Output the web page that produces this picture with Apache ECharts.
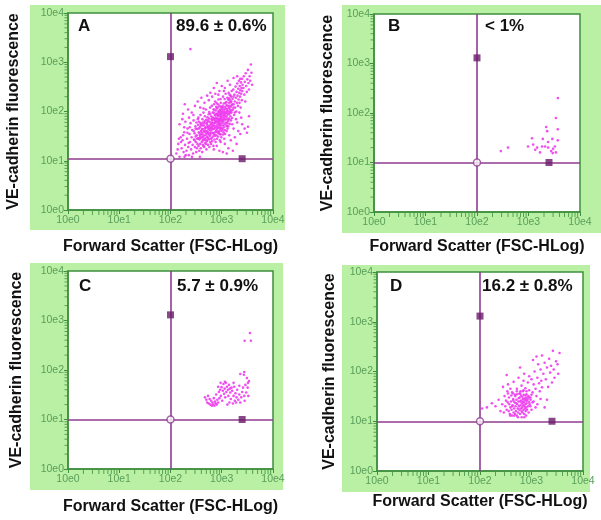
<!DOCTYPE html>
<html><head><meta charset="utf-8">
<script src="https://cdn.jsdelivr.net/npm/echarts@6/dist/echarts.min.js"></script>
<style>html,body{margin:0;padding:0;background:#fff}#c{width:601px;height:520px}</style>
</head><body><div id="c"></div>
<script>
// ---------- data ----------
const tickLabels = ['10e0','10e1','10e2','10e3','10e4'];
const xTitle = 'Forward Scatter (FSC-HLog)';
const yTitle = 'VE-cadherin fluorescence';
const panelLetters = ['A','B','C','D'];
const panelPercents = ['89.6 \u00b1 0.6%','< 1%','5.7 \u00b1 0.9%','16.2 \u00b1 0.8%'];
const gateX = [100,100,100,100];
const gateY = [11,10,10,10];
const gateHandleY = 1300;   // square on vertical gate line
const gateHandleX = 2500;   // square on horizontal gate line
const minorTickVals = [2,3,4,5,6,7,8,9,20,30,40,50,60,70,80,90,200,300,400,500,600,700,800,900,2000,3000,4000,5000,6000,7000,8000,9000];

const dataA = [
[130,14],[142,22],[150,12],[158,30],[165,18],[172,26],[180,15],[185,38],[192,21],[198,13],[138,17],[176,33],[160,24],[188,12],[146,28],[150,55],[170,70],[185,48],[195,62],
[205,16],[210,28],[215,45],[222,19],[228,13],[235,35],[240,24],[246,58],[252,17],[258,30],[265,42],[270,21],[276,14],[282,66],[288,27],[295,36],[300,19],[306,50],[312,24],[318,15],[325,33],[330,44],[336,22],[342,70],[348,29],[214,37],[238,48],[262,12],[284,40],[310,31],[328,18],[344,54],[226,23],[296,26],[320,60],
[352,20],[356,38],[360,62],[364,16],[368,27],[372,48],[376,33],[380,22],[385,85],[390,18],[394,40],[398,29],[402,55],[408,24],[412,36],[416,15],[420,70],[425,44],[430,21],[435,31],[440,95],[445,26],[450,52],[455,19],[460,38],[466,64],[472,28],[478,23],[484,46],[490,110],[496,33],[502,17],[508,58],[514,25],[520,40],[526,76],[532,30],[538,21],[544,50],[550,36],[556,88],[562,27],[568,44],[574,19],[580,62],[586,32],[592,120],[598,24],[358,45],[374,12],[388,58],[406,34],[428,26],[448,40],[468,45],[488,22],[506,36],[528,48],[548,28],[566,72],[584,42],[418,30],[458,28],[498,68],[538,38],
[604,35],[610,56],[616,22],[622,80],[628,42],[634,29],[640,130],[646,48],[652,25],[658,66],[664,37],[670,95],[676,31],[682,52],[688,20],[694,74],[700,44],[706,140],[712,34],[718,58],[724,27],[730,86],[736,47],[742,160],[748,38],[754,63],[760,24],[766,105],[772,50],[778,33],[784,72],[790,150],[796,42],[802,60],[808,28],[814,90],[820,54],[826,38],[832,120],[838,66],[844,31],[850,80],[856,46],[862,175],[868,57],[874,36],[880,98],[886,62],[892,40],[898,130],[904,70],[910,48],[916,26],[922,85],[928,56],[934,110],[940,44],[946,68],[952,34],[958,150],[964,76],[970,52],[976,95],[982,40],[988,64],[994,120],[620,46],[660,52],[700,70],[740,60],[780,90],[820,72],[860,100],[900,58],[940,82],
[1010,58],[1020,88],[1030,45],[1040,130],[1050,66],[1060,200],[1070,52],[1080,96],[1090,38],[1100,145],[1110,74],[1120,110],[1130,56],[1140,180],[1150,84],[1160,42],[1170,125],[1180,68],[1190,230],[1200,92],[1215,60],[1230,155],[1245,78],[1260,112],[1275,50],[1290,190],[1305,86],[1320,130],[1335,64],[1350,100],[1365,240],[1380,72],[1395,150],[1410,90],[1425,56],[1440,170],[1455,110],[1470,80],[1485,210],[1500,125],[1515,66],[1530,160],[1545,95],[1560,260],[1575,135],[1590,74],[1030,70],[1080,62],[1130,100],[1180,150],[1230,95],[1280,70],[1330,175],[1380,118],[1430,130],[1480,100],[1530,200],[1060,34],[1250,40],[1420,220],
[1620,180],[1650,110],[1680,280],[1710,140],[1740,85],[1770,220],[1800,160],[1830,120],[1860,320],[1890,190],[1920,100],[1950,250],[1980,150],[2010,370],[2040,210],[2070,130],[2100,290],[2130,175],[2160,420],[2190,240],[2220,150],[2250,330],[2280,200],[2310,270],[2340,120],[2370,390],[2400,230],[2430,300],[2460,170],[2490,460],[2520,260],[2550,350],[1700,200],[1900,70],[2200,95],
[2650,300],[2700,520],[2760,220],[2820,400],[2880,160],[2940,600],[3000,330],[3080,250],[3160,450],[3240,700],[3320,380],[3400,280],[3500,520],[3600,420],[3700,900],[3800,610],[3250,49],[3900,350],
[245,1850],
[175,90],[190,140],[220,110],[260,95],[300,130],[340,160],[400,190],[460,150],[520,210],[600,240],[700,300],[800,380],[900,260],[1000,330],[1150,300],[1300,420],[1450,350],[1700,480],[2000,520],[2300,460],[230,75],[280,85],[380,120],[440,115],[560,170],[650,200],[750,230],[860,220],[950,180],[1100,260],
[1050,15],[1150,22],[1250,14],[1350,18],[1500,26],[1650,16],[1800,30],[1950,22],[2100,40],[2300,35],[2500,55],[2800,45],[3100,37],[3400,80],[1120,28],[1400,33],[1700,45],[2000,60],[2400,75],[1300,45],[1600,55],[900,16],[800,20],[700,17],[950,24],
[310,45],[330,28],[350,75],[370,36],[390,52],[410,44],[430,60],[450,33],[470,80],[490,48],[510,30],[530,62],[550,44],[570,98],[590,52],[610,38],[630,70],[650,58],[670,44],[690,110],[710,52],[730,68],[750,84],[770,40],[790,64],[810,115],[830,48],[850,70],[870,88],[890,52],[910,105],[930,66],[950,90],[970,46],[990,78],[1020,108],[1060,80],[1100,95],[1140,70],[1190,115],[1240,135],[1290,105],[1340,90],[1390,185],[1440,95],[1500,155],[1560,105],[1620,140],[1700,120],[1800,95],[420,52],[480,40],[540,66],[600,90],[660,75],[720,110],[780,125],[840,140],[900,100],[960,125],[380,30],[440,20],[500,26],[560,34],[620,28],[680,36],[740,32],[800,45],[860,38],[920,35],[980,30],[1040,42],[1100,48],[1160,35],[1220,52],[1280,58],[1340,50],[1400,70],[360,28],[400,40],[460,58],[520,54],[580,48],[640,60],[700,95],[760,75],[820,85],[880,65],[940,72],[1000,100],[1060,120],[1120,88],[1180,80],[1240,98]
];

const dataB = [
[3720,200],[3400,79],[3700,47],[2200,52],[2300,43],[3700,28],[1170,31],[1900,30],[2900,30],[980,21],[1230,23],[1470,20],[1830,21],[2100,21],[2400,20],[2750,17],[3000,19],[2950,15.5],[1670,16],[1350,18],[400,20],[290,17],[3250,21],[2400,26],[3400,16]
];

const dataC = [
[470,28],[500,25],[520,22],[540,30],[560,21],[580,26],[600,20],[620,24],[640,19],[660,22],[680,20],[700,27],[720,19],[740,23],[760,21],[780,32],[800,20],[820,25],[850,22],[880,36],[900,27],[930,40],[960,30],[990,45],[1020,24],[1050,38],[1080,52],[1110,33],[1140,42],[1170,28],[1200,55],[1230,36],[1260,46],[1290,20],[1320,40],[1350,30],[1380,50],[1410,22],[1440,42],[1470,35],[1500,26],[1550,44],[1600,38],[1650,21],[1700,30],[1750,46],[1800,24],[1850,34],[1900,22],[1950,28],[2000,40],[2100,25],[2200,32],[2300,22],[2400,28],[2500,36],[2600,44],[2700,80],[2750,30],[2800,24],[2900,50],[3000,35],[3100,69],[3200,44],[3250,55],[3300,30],[3400,60],[2300,83],[2750,91],[2800,390],[3700,390],[3550,560],[950,55],[1150,58],[850,46],[1700,55],[2200,48]
];

const dataD = [
[360,16],[370,22],[380,14],[390,19],[400,25],[410,17],[420,13],[430,21],[440,28],[450,15],[460,18],[470,24],[480,14],[490,20],[500,16],[510,27],[520,13],[530,22],[540,18],[550,15],[560,25],[570,20],[580,17],[590,30],[600,14],[610,21],[620,18],[630,26],[640,16],[650,23],[660,19],[670,15],[680,28],[690,21],[700,17],[710,24],[720,14],[730,20],[740,29],[750,18],[760,22],[770,16],[780,26],[790,19],[800,23],[820,17],[840,28],[860,20],[880,15],[900,24],
[330,17],[345,24],[365,30],[385,13],[405,33],[425,20],[445,26],[465,13],[485,32],[505,23],[525,35],[545,12],[565,29],[585,36],[605,25],[625,33],[645,12],[665,31],[685,25],[705,34],[725,12],[745,27],[765,33],[785,13],[805,30],[830,26],[870,32],[920,22],[960,27],[1000,34],[310,20],[290,15],[350,36],[610,40],[700,42],[520,40],[440,36],[800,40],[900,30],[1050,24],
[330,85],[280,49],[300,32],[320,26],[340,40],[136,19],[110,18],[170,23],[200,20],[230,27],[250,16],[270,22],[350,55],[420,38],[450,62],[480,34],[520,45],[560,75],[600,36],[640,52],[680,40],[720,90],[760,46],[800,35],[850,60],[900,42],[950,30],[1000,70],[1070,170],[1050,38],[1100,55],[1150,100],[1200,45],[1250,32],[1300,75],[1350,140],[1400,58],[1450,40],[1500,110],[1550,65],[1600,48],[1700,90],[1800,19],[1800,150],[1900,70],[2000,27],[2000,120],[2100,49],[2200,180],[2300,95],[2400,130],[2600,260],[2700,110],[2800,75],[3000,160],[3200,140],[3500,235],[3300,90],[1100,25],[1300,22],[1500,28],[950,20],[1000,17],[1200,19],[390,45],[600,120],[700,65],[900,80],[1250,200],[1600,210],[2500,60]
];
const panelData = [dataA, dataB, dataC, dataD];

// ---------- layout / style ----------
const FONT = '"Liberation Sans", Arial, sans-serif';
const grids = [
  {left:68, top:13, width:205, height:197},
  {left:374, top:14, width:206, height:198},
  {left:68, top:271, width:205, height:198},
  {left:377, top:272, width:206, height:199}
];
const greenBoxes = [
  {x:30, y:5, w:255, h:225},
  {x:342, y:5, w:259, h:228},
  {x:30, y:263, w:253, h:227},
  {x:342, y:265, w:248, h:227}
];
const yNameGap = [46, 38, 43, 39];
const xNameGap = [29, 27, 30, 23];
const letterPos = [[78,27],[388,27],[79,287],[390,287]];
const pctPos = [[176,27],[485,27],[177,287],[482,287]];

const GREEN_BG = '#b9f0a4';
const FRAME = '#3f8e3f';
const LABEL = '#5a9e5a';
const GATE = '#8e3d8e';
const HANDLE = '#6a1a6a';
const DOT = '#ee3cee';

const lbl = v => tickLabels[Math.round(Math.log10(v))];

const option = {
  animation:false,
  backgroundColor:'#ffffff',
  textStyle:{fontFamily:FONT},
  grid: grids.map(g => Object.assign({show:true, backgroundColor:'#ffffff', borderColor:FRAME, borderWidth:1.5, containLabel:false}, g)),
  xAxis: grids.map((g,i) => ({
    type:'log', logBase:10, min:1, max:10000, gridIndex:i,
    name:xTitle, nameLocation:'middle', nameGap:xNameGap[i],
    nameTextStyle:{fontSize:16, fontWeight:'bold', color:'#111', fontFamily:FONT},
    axisLine:{show:true, lineStyle:{color:FRAME, width:1.5}},
    axisTick:{show:true, length:4, lineStyle:{color:FRAME}},
    axisLabel:{formatter:lbl, color:LABEL, fontSize:10.5, margin:5, fontFamily:FONT},
    splitLine:{show:false}
  })),
  yAxis: grids.map((g,i) => ({
    type:'log', logBase:10, min:1, max:10000, gridIndex:i,
    name:yTitle, nameLocation:'middle', nameGap:yNameGap[i],
    nameTextStyle:{fontSize:16, fontWeight:'bold', color:'#111', fontFamily:FONT},
    axisLine:{show:true, lineStyle:{color:FRAME, width:1.5}},
    axisTick:{show:true, length:4, lineStyle:{color:FRAME}},
    axisLabel:{formatter:lbl, color:LABEL, fontSize:10.5, margin:4, fontFamily:FONT},
    splitLine:{show:false}
  })),
  graphic: [
    ...greenBoxes.map(b => ({type:'rect', z:-10, silent:true, shape:{x:b.x, y:b.y, width:b.w, height:b.h}, style:{fill:GREEN_BG}})),
    ...panelLetters.map((t,i) => ({type:'text', z:100, left:letterPos[i][0], top:letterPos[i][1]-9, style:{text:t, font:'bold 17px '+FONT, fill:'#111'}})),
    ...panelPercents.map((t,i) => ({type:'text', z:100, left:pctPos[i][0], top:pctPos[i][1]-9, style:{text:t, font:'bold 17px '+FONT, fill:'#111'}}))
  ],
  series: []
};

panelData.forEach((d,i) => {
  option.series.push({
    type:'scatter', xAxisIndex:i, yAxisIndex:i, data:d, symbolSize:2.6,
    itemStyle:{color:DOT, opacity:0.9}, silent:true, z:3,
    markLine:{silent:true, symbol:'none', label:{show:false}, z:4,
      lineStyle:{color:GATE, width:1.6, type:'solid'},
      data:[{xAxis:gateX[i]},{yAxis:gateY[i]}]}
  });
  option.series.push({
    type:'scatter', xAxisIndex:i, yAxisIndex:i, symbol:'rect', symbolSize:7, z:6, silent:true,
    itemStyle:{color:HANDLE},
    data:[[gateX[i], gateHandleY],[gateHandleX, gateY[i]]]
  });
  option.series.push({
    type:'scatter', xAxisIndex:i, yAxisIndex:i, symbol:'circle', symbolSize:7, z:7, silent:true,
    itemStyle:{color:'#ffffff', borderColor:GATE, borderWidth:1.5},
    data:[[gateX[i], gateY[i]]]
  });
  // log minor ticks on the x axis (below axis line)
  option.series.push({
    type:'scatter', xAxisIndex:i, yAxisIndex:i, symbol:'rect', symbolSize:[1,4], symbolOffset:[0,3],
    clip:false, silent:true, z:2, itemStyle:{color:FRAME},
    data:minorTickVals.map(v => [v,1])
  });
  // log minor ticks on the y axis (left of axis line)
  option.series.push({
    type:'scatter', xAxisIndex:i, yAxisIndex:i, symbol:'rect', symbolSize:[3,1], symbolOffset:[-2,0],
    clip:false, silent:true, z:2, itemStyle:{color:FRAME},
    data:minorTickVals.map(v => [1,v])
  });
});

const chart = echarts.init(document.getElementById('c'), null, {renderer:'canvas'});
chart.setOption(option);
</script></body></html>
